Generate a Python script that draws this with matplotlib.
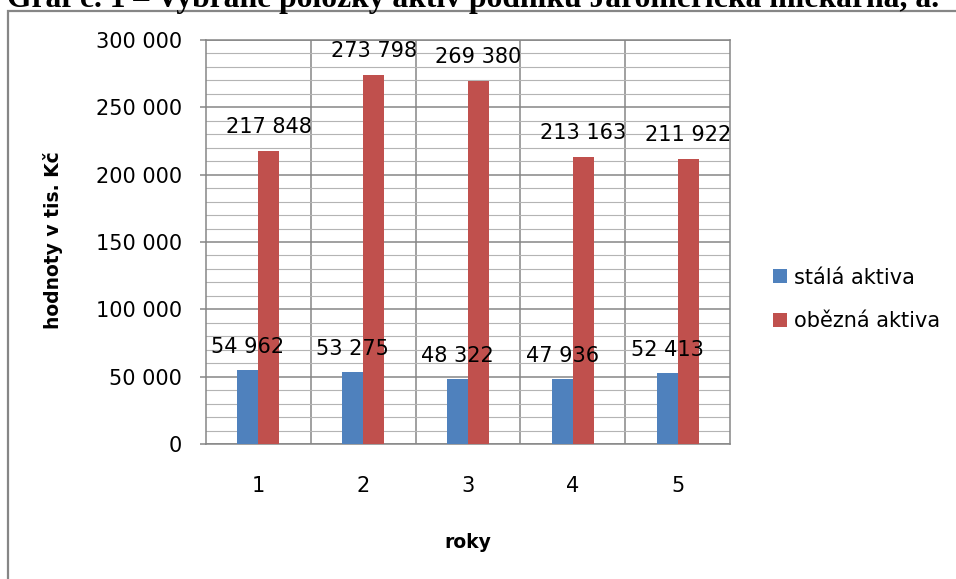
import matplotlib
matplotlib.use("Agg")
import matplotlib.pyplot as plt
from matplotlib.patches import Rectangle, Patch
from matplotlib.ticker import MultipleLocator, FuncFormatter

# data
roky = ["1", "2", "3", "4", "5"]
stala_aktiva = [54962, 53275, 48322, 47936, 52413]
obezna_aktiva = [217848, 273798, 269380, 213163, 211922]
series_names = ["stálá aktiva", "obězná aktiva"]
title_text = "Graf č. 1 – Vybrané položky aktiv podniku Jaroměřická mlékárna, a."

BLUE = "#4F81BD"
RED = "#C0504D"
DARK = "#868686"
LIGHT = "#B4B4B4"

plt.rcParams["font.family"] = ["DejaVu Sans"]

W, H = 956, 579
fig = plt.figure(figsize=(W / 100, H / 100), dpi=100)
fig.patch.set_facecolor("white")


def fx(px):
    return px / W


def fy(py):
    return 1 - py / H


# plot area
left, right, top, bottom = 206, 730, 40, 444
ax = fig.add_axes([fx(left), fy(bottom), fx(right - left), (bottom - top) / H])

x = list(range(1, len(roky) + 1))
bw = 0.2
xs = [v - bw / 2 for v in x]
xo = [v + bw / 2 for v in x]
ax.bar(xs, stala_aktiva, width=bw, color=BLUE, label=series_names[0], zorder=3)
ax.bar(xo, obezna_aktiva, width=bw, color=RED, label=series_names[1], zorder=3)

fmt = lambda v: f"{int(v):,}".replace(",", " ")

for xi, v in zip(xs, stala_aktiva):
    ax.annotate(fmt(v), (xi, v), xytext=(0, 12.5), textcoords="offset points",
                ha="center", va="baseline", fontsize=15, color="black", zorder=4)
for xi, v in zip(xo, obezna_aktiva):
    ax.annotate(fmt(v), (xi, v), xytext=(0, 13), textcoords="offset points",
                ha="center", va="baseline", fontsize=15, color="black", zorder=4)

ax.set_xlim(0.5, len(roky) + 0.5)
ax.set_ylim(0, 300000)

ax.yaxis.set_major_locator(MultipleLocator(50000))
ax.yaxis.set_minor_locator(MultipleLocator(10000))
ax.yaxis.set_major_formatter(FuncFormatter(lambda v, p: fmt(v)))
ax.set_xticks(x)
ax.set_xticklabels(roky)
ax.set_xticks([v + 0.5 for v in x[:-1]], minor=True)

ax.tick_params(axis="y", which="major", length=4.3, width=1.1, color=DARK,
               labelsize=15, pad=13, direction="out")
ax.tick_params(axis="y", which="minor", length=0)
ax.tick_params(axis="x", which="both", length=0, labelsize=15, pad=23)

ax.grid(True, axis="y", which="major", color=DARK, linewidth=1.1, zorder=1)
ax.grid(True, axis="y", which="minor", color=LIGHT, linewidth=0.8, zorder=0)
ax.grid(True, axis="x", which="minor", color=DARK, linewidth=1.1, zorder=1)
ax.grid(False, axis="x", which="major")
ax.set_axisbelow(True)

for s in ax.spines.values():
    s.set_color(DARK)
    s.set_linewidth(1.1)

# axis titles
fig.text(fx(53), fy(240), "hodnoty v tis. Kč", rotation=90, ha="center", va="center",
         fontsize=13.5, fontweight="bold")
fig.text(fx(468), fy(542), "roky", ha="center", va="center",
         fontsize=13.5, fontweight="bold")

# legend
handles = [Patch(facecolor=BLUE, edgecolor="none"), Patch(facecolor=RED, edgecolor="none")]
fig.legend(handles, series_names, loc="center left", bbox_to_anchor=(fx(773), fy(299.5)),
           frameon=False, fontsize=15, handlelength=0.68, handleheight=0.68,
           handletextpad=0.35, labelspacing=1.15, borderpad=0, borderaxespad=0)

# chart frame
fig.add_artist(Rectangle((fx(8), -0.2), 1.5, fy(11) + 0.2, transform=fig.transFigure,
                         fill=False, edgecolor=DARK, linewidth=1.6, clip_on=False))

# heading above the chart, sized to span the page width
t = fig.text(fx(7), fy(7.5), title_text, ha="left", va="baseline",
             family="Liberation Serif", fontweight="bold", fontsize=20)
fig.canvas.draw()
w = t.get_window_extent().width
t.set_fontsize(20 * (941 - 7) / w)

fig.savefig("out.png", dpi=100, facecolor="white")
